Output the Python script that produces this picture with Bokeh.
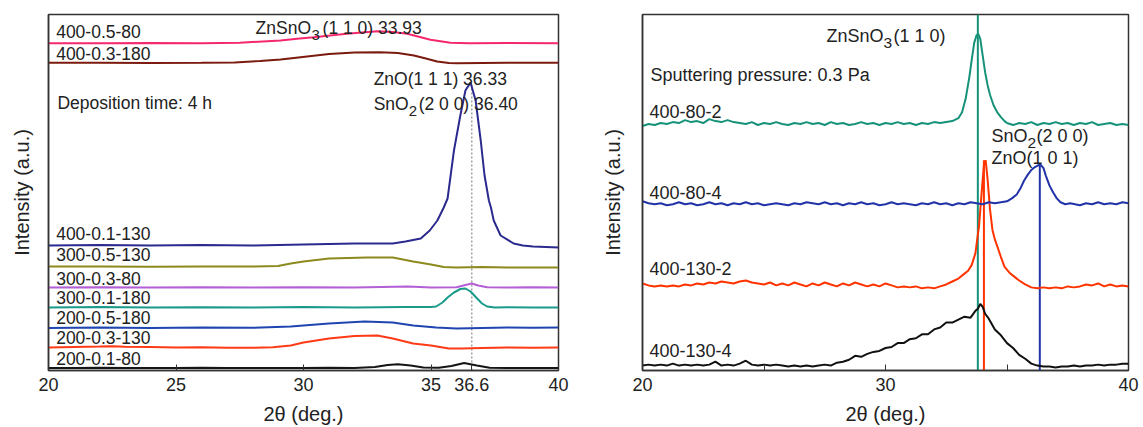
from bokeh.plotting import figure
from bokeh.layouts import row
from bokeh.models import Range1d, FixedTicker, NumeralTickFormatter, Label
from bokeh.embed import file_html
from bokeh.resources import INLINE

FONT = "Liberation Sans"

# ---------------- Panel (a) data: 2theta (deg) vs intensity (a.u., stacked) ----------------
a_names = ["200-0.1-80", "200-0.3-130", "200-0.5-180", "300-0.1-180", "300-0.3-80",
           "300-0.5-130", "400-0.1-130", "400-0.3-180", "400-0.5-80"]
a_colors = ["#151515", "#ff3a17", "#1f45b0", "#1a9a8a", "#b45fd6",
            "#8c8a1e", "#2b2a8f", "#7b1a0e", "#f5286e"]

a1_x = [20, 21, 22, 23, 24, 25, 26, 27, 28, 29, 30, 31, 32, 32.8, 33.3, 33.7, 34.2, 34.7, 35.3, 35.8, 36.3, 36.8, 37.3, 38, 39, 40]
a1_y = [2.5, 2.5, 2.8, 2.5, 2.6, 2.5, 2.7, 2.5, 2.6, 2.4, 2.5, 2.7, 2.6, 3.5, 5.5, 6.3, 5, 3, 2.8, 4.5, 7.5, 5, 2.8, 2.5, 2.6, 2.5]

a2_x = [20, 21, 22, 22.5, 23, 24, 25, 26, 27, 28, 28.8, 29.5, 30, 31, 32, 32.9, 33.5, 34.3, 35, 35.7, 36.2, 37, 38, 39, 40]
a2_y = [23, 23.5, 24, 24.3, 23.8, 23.5, 23, 23.2, 22.8, 22.7, 23.2, 25, 28, 32, 34.5, 35, 32, 27, 25, 22, 22, 22.5, 23, 22.8, 23]

a3_x = [20, 22, 24, 26, 28, 29.5, 30, 31, 32.4, 33.5, 34.3, 35.2, 36, 37, 38, 39, 40]
a3_y = [42.5, 43, 42.5, 43, 42.7, 44, 45, 47, 49, 48, 45, 43, 42, 42.5, 43, 42.7, 43]

a4_x = [20, 22, 24, 26, 28, 30, 32, 34, 35, 35.2, 35.45, 35.65, 35.9, 36.15, 36.35, 36.55, 36.81, 37.0, 37.2, 37.5, 38, 39, 40]
a4_y = [63, 63.5, 63, 63.3, 63, 63.5, 63, 63.5, 63.5, 64, 68, 73, 78, 81.5, 82, 79, 72, 67, 64, 63, 63.3, 63, 63]

a5_x = [20, 22, 24, 26, 28, 30, 32, 34.1, 35, 36, 36.35, 36.6, 36.85, 37.2, 38, 39, 40]
a5_y = [83, 83.3, 83, 83.2, 83, 83.3, 83, 84, 83, 83.3, 85.5, 87, 85, 83.2, 83, 83.2, 83]

a6_x = [20, 22, 24, 26, 28, 29, 29.5, 30, 31, 32.5, 33.5, 34.3, 35, 35.5, 36, 37, 38, 40]
a6_y = [104, 104, 103.7, 104, 104, 104.5, 107, 109, 112, 113, 113, 109, 106, 103.5, 103, 103.5, 103, 103]

a7_x = [20, 22, 24, 26, 28, 30, 32, 33.5, 34, 34.6, 34.95, 35.25, 35.5, 35.65, 35.9, 36.15, 36.35, 36.55,
        36.75, 36.95, 37.1, 37.27, 37.35, 37.46, 37.73, 38.24, 38.6, 39, 40]
a7_y = [125, 125.5, 125, 125.5, 125, 126, 127, 127, 129, 132, 140, 150, 163, 172, 220, 255, 280, 288,
        270, 230, 195, 170, 163, 150, 135, 127, 125, 124, 123]

a8_x = [20, 22, 24, 26, 27.3, 28.3, 29.1, 29.8, 31, 32, 33, 33.7, 34.33, 34.8, 35.24, 35.7, 36.03, 37, 38, 40]
a8_y = [307.7, 307.7, 307.5, 307.7, 308, 309.5, 311, 313, 316.5, 318, 318.3, 317.5, 315, 312, 309, 307.5, 307.3, 307.5, 307.7, 307.7]

a9_x = [20, 22, 24, 26, 27.5, 28.58, 29.1, 29.75, 30.4, 31.7, 32.89, 33.5, 34.07, 34.98, 35.76, 36.5, 38, 40]
a9_y = [327.3, 327.3, 327.5, 327.3, 327.8, 329.3, 330, 331.7, 333.3, 336.7, 339.3, 338.5, 336.7, 330.7, 327.7, 327.3, 327.5, 327.3]

a_xs = [a1_x, a2_x, a3_x, a4_x, a5_x, a6_x, a7_x, a8_x, a9_x]
a_ys = [a1_y, a2_y, a3_y, a4_y, a5_y, a6_y, a7_y, a8_y, a9_y]
a_label_y = [12, 33, 53, 73, 92, 116, 137, 317, 339]

a_ticks = [20, 25, 30, 35, 36.6, 40]
a_ref_x = 36.6
a_ref_top = 287

# ---------------- Panel (b) data ----------------
b_names = ["400-130-4", "400-130-2", "400-80-4", "400-80-2"]
b_colors = ["#111111", "#ff3300", "#2233a8", "#17927a"]

b1_x = [20.0, 20.25, 20.5, 20.75, 21.0, 21.25, 21.5, 21.75, 22.0, 22.25, 22.5, 22.75, 23.0, 23.25, 23.5, 23.75,
        24.0, 24.25, 24.5, 24.75, 25.0, 25.25, 25.5, 25.75, 26.0, 26.25, 26.5, 26.75, 27.0, 27.25, 27.5, 27.75,
        28.0, 28.25, 28.5, 28.75, 29.0, 29.25, 29.5, 29.75, 30.0, 30.25, 30.5, 30.75, 31.0, 31.25, 31.5, 31.75,
        32.0, 32.25, 32.5, 32.75, 33.0, 33.25, 33.5, 33.7, 33.8, 33.9, 34.0, 34.1, 34.25, 34.5, 34.75, 35.0,
        35.25, 35.5, 35.75, 36.0, 36.25, 36.5, 36.75, 37.0, 37.25, 37.5, 37.75, 38.0, 38.25, 38.5, 38.75, 39.0,
        39.25, 39.5, 39.75, 40.0]
b1_y = [5, 6, 5, 6, 5, 7, 5, 6, 5, 6, 5, 6, 9, 5, 6, 5,
        7, 10, 6, 5, 6, 5, 6, 5, 4, 5, 4, 5, 4, 5, 6, 5,
        8, 9, 11, 15, 14, 17, 19, 20, 23, 24, 28, 28, 32, 33, 37, 37,
        42, 44, 49, 49, 52, 55, 54, 61, 63, 68, 65, 58, 53, 42, 36, 28,
        23, 16, 12, 7, 5, 4, 4, 3, 4, 4, 5, 4, 5, 5, 6, 5,
        6, 6, 7, 7]

b2_x = [20.0, 20.25, 20.5, 20.75, 21.0, 21.25, 21.5, 21.75, 22.0, 22.25, 22.5, 22.75, 23.0, 23.25, 23.5, 23.75,
        24.0, 24.25, 24.5, 24.75, 25.0, 25.25, 25.5, 25.75, 26.0, 26.25, 26.5, 26.75, 27.0, 27.25, 27.5, 27.75,
        28.0, 28.25, 28.5, 28.75, 29.0, 29.25, 29.5, 29.75, 30.0, 30.25, 30.5, 30.75, 31.0, 31.25, 31.5, 31.75,
        32.0, 32.25, 32.5, 32.75, 33.0, 33.2, 33.4, 33.55, 33.7, 33.85, 33.95, 34.05, 34.12, 34.2, 34.3, 34.4,
        34.5, 34.6, 34.75, 34.9, 35.1, 35.3, 35.5, 35.75, 36.0, 36.25, 36.5, 36.75, 37.0, 37.25, 37.5, 37.75,
        38.0, 38.25, 38.5, 38.75, 39.0, 39.25, 39.5, 39.75, 40.0]
b2_y = [89, 87, 86, 87, 86, 87, 86, 88, 87, 89, 88, 90, 89, 91, 90, 89,
        91, 92, 90, 89, 88, 90, 87, 89, 87, 90, 88, 86, 89, 87, 90, 88,
        86, 89, 87, 90, 88, 86, 88, 86, 89, 87, 85, 86, 85, 86, 84, 85,
        84, 86, 88, 91, 94, 98, 102, 108, 120, 148, 180, 210, 215, 196, 165, 144,
        134, 127, 116, 106, 100, 96, 92, 88, 85, 84, 85, 84, 85, 84, 86, 85,
        86, 88, 87, 89, 86, 88, 86, 87, 86]

b3_x = [20.0, 20.25, 20.5, 20.75, 21.0, 21.25, 21.5, 21.75, 22.0, 22.25, 22.5, 22.75, 23.0, 23.25, 23.5, 23.75,
        24.0, 24.25, 24.5, 24.75, 25.0, 25.25, 25.5, 25.75, 26.0, 26.25, 26.5, 26.75, 27.0, 27.25, 27.5, 27.75,
        28.0, 28.25, 28.5, 28.75, 29.0, 29.25, 29.5, 29.75, 30.0, 30.25, 30.5, 30.75, 31.0, 31.25, 31.5, 31.75,
        32.0, 32.25, 32.5, 32.75, 33.0, 33.25, 33.5, 33.75, 34.0, 34.25, 34.5, 34.75, 35.0, 35.2, 35.4, 35.55,
        35.7, 35.85, 36.0, 36.15, 36.3, 36.4, 36.5, 36.6, 36.75, 36.9, 37.05, 37.2, 37.4, 37.6, 37.8, 38.0,
        38.25, 38.5, 38.75, 39.0, 39.25, 39.5, 39.75, 40.0]
b3_y = [173, 171, 170, 171, 169, 170, 172, 170, 171, 169, 170, 172, 170, 171, 169, 171,
        170, 172, 170, 171, 169, 170, 171, 170, 169, 171, 170, 172, 171, 170, 172, 170,
        171, 169, 171, 170, 172, 170, 171, 169, 170, 172, 170, 171, 170, 169, 171, 170,
        172, 170, 171, 169, 171, 170, 172, 171, 170, 172, 171, 172, 173, 176, 180, 186,
        194, 200, 205, 208, 210, 210, 207, 199, 189, 182, 176, 172, 170, 171, 170, 169,
        171, 170, 172, 170, 171, 170, 172, 171]

b4_x = [20.0, 20.25, 20.5, 20.75, 21.0, 21.25, 21.5, 21.75, 22.0, 22.25, 22.5, 22.75, 23.0, 23.25, 23.5, 23.75,
        24.0, 24.25, 24.5, 24.75, 25.0, 25.25, 25.5, 25.75, 26.0, 26.25, 26.5, 26.75, 27.0, 27.25, 27.5, 27.75,
        28.0, 28.25, 28.5, 28.75, 29.0, 29.25, 29.5, 29.75, 30.0, 30.25, 30.5, 30.75, 31.0, 31.25, 31.5, 31.75,
        32.0, 32.25, 32.5, 32.75, 33.0, 33.15, 33.3, 33.45, 33.55, 33.65, 33.75, 33.82, 33.9, 34.0, 34.1, 34.2,
        34.3, 34.45, 34.6, 34.75, 34.9, 35.0, 35.25, 35.5, 35.75, 36.0, 36.25, 36.5, 36.75, 37.0, 37.25, 37.5,
        37.75, 38.0, 38.25, 38.5, 38.75, 39.0, 39.25, 39.5, 39.75, 40.0]
b4_y = [250, 252, 251, 253, 252, 254, 253, 256, 254, 255, 253, 257, 255, 254, 256, 254,
        253, 252, 254, 251, 253, 252, 254, 252, 251, 253, 252, 254, 252, 253, 251, 254,
        252, 253, 251, 252, 254, 252, 253, 251, 253, 252, 254, 252, 253, 251, 253, 252,
        254, 253, 254, 255, 258, 264, 278, 300, 318, 335, 343, 344, 339, 322, 305, 292,
        282, 271, 264, 259, 255, 253, 251, 253, 252, 254, 251, 253, 252, 254, 252, 253,
        251, 253, 252, 254, 251, 252, 253, 251, 252, 251]

b_xs = [b1_x, b2_x, b3_x, b4_x]
b_ys = [b1_y, b2_y, b3_y, b4_y]
b_label_y = [20, 104, 182, 265]

b_peak_x = [33.8, 34.05, 36.35]
b_peak_top = [364, 215, 210]
b_peak_colors = ["#17927a", "#ff3300", "#2233a8"]

b_ticks = [20, 30, 40]
b_minor = [25, 35]

AX_COLOR = "#333333"


def style(p, ylabel_standoff):
    p.grid.visible = False
    p.outline_line_color = AX_COLOR
    p.outline_line_width = 1.5
    p.background_fill_color = "white"
    p.border_fill_color = "white"
    for ax in p.xaxis:
        ax.axis_label = "2θ (deg.)"
        ax.axis_label_text_font = FONT
        ax.axis_label_text_font_size = "20px"
        ax.axis_label_text_font_style = "normal"
        ax.axis_label_text_color = "#222222"
        ax.axis_label_standoff = 9
        ax.major_label_text_font = FONT
        ax.major_label_text_font_size = "18px"
        ax.major_label_text_color = "#222222"
        ax.major_label_standoff = 7
        ax.major_tick_in = 6
        ax.major_tick_out = 0
        ax.minor_tick_in = 6
        ax.minor_tick_out = 0
        ax.major_tick_line_color = AX_COLOR
        ax.minor_tick_line_color = AX_COLOR
        ax.axis_line_color = AX_COLOR
        ax.axis_line_width = 1.5
        ax.formatter = NumeralTickFormatter(format="0.[0]")
    for ax in p.yaxis:
        ax.axis_label = "Intensity (a.u.)"
        ax.axis_label_text_font = FONT
        ax.axis_label_text_font_size = "20px"
        ax.axis_label_text_font_style = "normal"
        ax.axis_label_text_color = "#222222"
        ax.axis_label_standoff = ylabel_standoff
        ax.ticker = FixedTicker(ticks=[])
        ax.major_label_text_font_size = "0px"
        ax.major_label_standoff = 0
        ax.major_tick_in = 0
        ax.major_tick_out = 0
        ax.minor_tick_in = 0
        ax.minor_tick_out = 0
        ax.axis_line_color = AX_COLOR
        ax.axis_line_width = 1.5


def add_text(p, x, y, text, size="17.5px", x_offset=0, y_offset=0, bold=False):
    p.add_layout(Label(x=x, y=y, text=text, x_offset=x_offset, y_offset=y_offset,
                       text_font=FONT, text_font_size=size, text_color="#222222",
                       text_font_style="bold" if bold else "normal",
                       text_baseline="middle", text_align="left"))


# ---------------- Figure (a) ----------------
pa = figure(width=590, height=427, x_range=Range1d(20, 40), y_range=Range1d(0, 356),
            output_backend="svg", toolbar_location=None,
            min_border_left=48, min_border_right=32, min_border_top=14, min_border_bottom=57)
style(pa, 16)
pa.xaxis.ticker = FixedTicker(ticks=a_ticks, minor_ticks=[])

pa.line([a_ref_x, a_ref_x], [0, a_ref_top], line_color="#8a8a8a", line_width=1.2, line_dash="2 2")
for xs, ys, c in zip(a_xs, a_ys, a_colors):
    pa.line(xs, ys, line_color=c, line_width=2)

for name, ly in zip(a_names, a_label_y):
    add_text(pa, 20.3, ly, name)
add_text(pa, 20.35, 268, "Deposition time: 4 h")
add_text(pa, 28.12, 343, "ZnSnO")
add_text(pa, 28.12, 343, "3", size="15px", x_offset=56, y_offset=-7)
add_text(pa, 28.12, 343, "(1 1 0) 33.93", x_offset=67)
add_text(pa, 32.75, 292, "ZnO(1 1 1) 36.33")
add_text(pa, 32.75, 267, "SnO")
add_text(pa, 32.75, 267, "2", size="15px", x_offset=35, y_offset=-7)
add_text(pa, 32.75, 267, "(2 0 0) 36.40", x_offset=45)
add_text(pa, 18.39, 345, "(a)", size="23px", bold=True)

# ---------------- Figure (b) ----------------
pb = figure(width=553, height=427, x_range=Range1d(20, 40), y_range=Range1d(0, 364),
            output_backend="svg", toolbar_location=None,
            min_border_left=52, min_border_right=15, min_border_top=8, min_border_bottom=55)
style(pb, 19)
pb.xaxis.ticker = FixedTicker(ticks=b_ticks, minor_ticks=b_minor)

for px_, top, c in zip(b_peak_x, b_peak_top, b_peak_colors):
    pb.line([px_, px_], [0, top], line_color=c, line_width=2)
for xs, ys, c in zip(b_xs, b_ys, b_colors):
    pb.line(xs, ys, line_color=c, line_width=2)

for name, ly in zip(b_names, b_label_y):
    add_text(pb, 20.29, ly, name, size="18px")
add_text(pb, 20.33, 302, "Sputtering pressure: 0.3 Pa", size="18px")
add_text(pb, 27.57, 342, "ZnSnO", size="18px")
add_text(pb, 27.57, 342, "3", size="15.5px", x_offset=57, y_offset=-7)
add_text(pb, 27.57, 342, "(1 1 0)", size="18px", x_offset=67)
add_text(pb, 34.36, 240, "SnO", size="18px")
add_text(pb, 34.36, 240, "2", size="15.5px", x_offset=36, y_offset=-7)
add_text(pb, 34.36, 240, "(2 0 0)", size="18px", x_offset=45)
add_text(pb, 34.36, 217, "ZnO(1 0 1)", size="18px")
add_text(pb, 18.27, 349, "(b)", size="23px", bold=True)

layout = row(pa, pb)
open("out.html", "w").write(file_html(layout, INLINE))
